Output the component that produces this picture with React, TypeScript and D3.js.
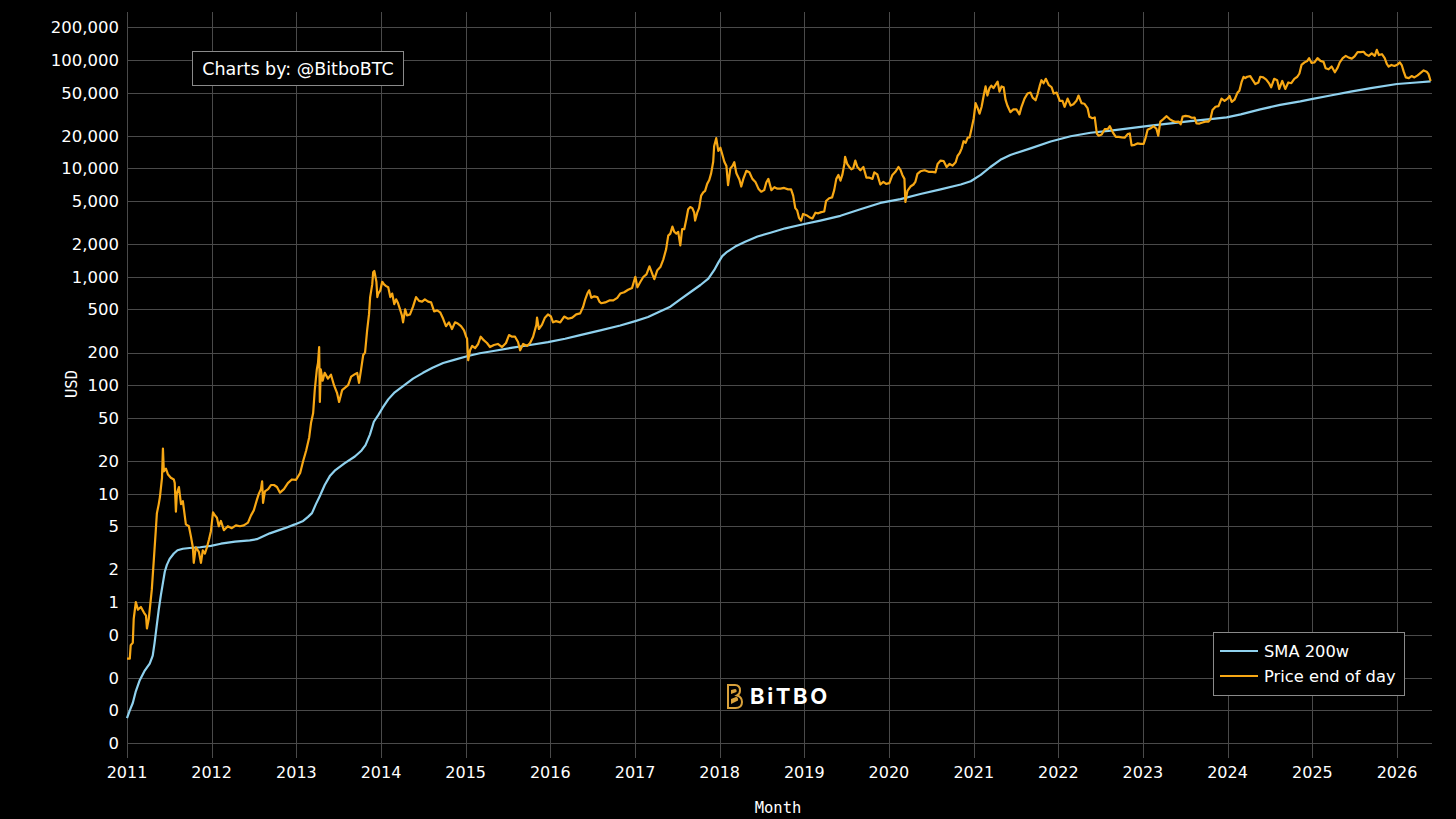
import * as d3 from 'd3';

// price end of day (log scale)
const priceSeries: [string, number][] = [
  ['2011-01-01', 0.3], ['2011-01-13', 0.3], ['2011-01-17', 0.4], ['2011-01-26', 0.42], ['2011-01-30', 0.7],
  ['2011-02-08', 1.0], ['2011-02-17', 0.85], ['2011-03-02', 0.9], ['2011-03-15', 0.8], ['2011-03-24', 0.75],
  ['2011-03-28', 0.57], ['2011-04-05', 0.7], ['2011-04-18', 1.3], ['2011-04-27', 2.5], ['2011-05-05', 4.5],
  ['2011-05-10', 6.6], ['2011-05-18', 8.0], ['2011-05-23', 9.3], ['2011-06-01', 14], ['2011-06-05', 26],
  ['2011-06-09', 16], ['2011-06-18', 17], ['2011-06-27', 15], ['2011-07-09', 14], ['2011-07-22', 13.5],
  ['2011-07-26', 12.5], ['2011-07-31', 6.8], ['2011-08-04', 10], ['2011-08-13', 11.5], ['2011-08-22', 8.0],
  ['2011-08-30', 8.5], ['2011-09-12', 5.2], ['2011-09-25', 5.0], ['2011-10-04', 4.0], ['2011-10-12', 3.2],
  ['2011-10-16', 2.3], ['2011-10-25', 3.2], ['2011-11-07', 2.9], ['2011-11-16', 2.3], ['2011-11-24', 3.0],
  ['2011-12-03', 2.8], ['2011-12-12', 3.2], ['2011-12-21', 3.8], ['2011-12-29', 4.5], ['2012-01-07', 6.7],
  ['2012-01-15', 6.3], ['2012-01-24', 6.0], ['2012-02-01', 5.0], ['2012-02-10', 5.6], ['2012-02-23', 4.6],
  ['2012-03-11', 5.0], ['2012-03-28', 4.8], ['2012-04-15', 5.1], ['2012-05-02', 5.0], ['2012-05-19', 5.1],
  ['2012-06-06', 5.4], ['2012-06-19', 6.3], ['2012-07-01', 7.0], ['2012-07-14', 8.7], ['2012-07-23', 10],
  ['2012-08-01', 11], ['2012-08-06', 13], ['2012-08-10', 8.2], ['2012-08-18', 10.5], ['2012-09-01', 11],
  ['2012-09-13', 12], ['2012-09-26', 12], ['2012-10-09', 11.5], ['2012-10-22', 10.2], ['2012-11-08', 11],
  ['2012-11-25', 12.5], ['2012-12-12', 13.5], ['2012-12-30', 13.4], ['2013-01-17', 15.5], ['2013-01-30', 20],
  ['2013-02-12', 25], ['2013-02-25', 33], ['2013-03-05', 45], ['2013-03-14', 55], ['2013-03-21', 90],
  ['2013-03-30', 140], ['2013-04-04', 160], ['2013-04-09', 225], ['2013-04-12', 70], ['2013-04-16', 140],
  ['2013-04-24', 110], ['2013-05-03', 130], ['2013-05-17', 115], ['2013-05-30', 125], ['2013-06-12', 100],
  ['2013-06-25', 85], ['2013-07-04', 70], ['2013-07-17', 90], ['2013-07-30', 95], ['2013-08-12', 100],
  ['2013-08-25', 120], ['2013-09-07', 125], ['2013-09-20', 130], ['2013-09-28', 105], ['2013-10-07', 140],
  ['2013-10-16', 190], ['2013-10-24', 200], ['2013-11-02', 320], ['2013-11-10', 450], ['2013-11-15', 650],
  ['2013-11-24', 850], ['2013-11-28', 1100], ['2013-12-03', 1130], ['2013-12-12', 900], ['2013-12-16', 650],
  ['2013-12-20', 700], ['2013-12-29', 750], ['2014-01-06', 900], ['2014-01-14', 850], ['2014-01-23', 820],
  ['2014-02-01', 800], ['2014-02-10', 650], ['2014-02-18', 700], ['2014-02-27', 560], ['2014-03-07', 620],
  ['2014-03-14', 580], ['2014-03-24', 500], ['2014-04-01', 440], ['2014-04-06', 380], ['2014-04-15', 500],
  ['2014-04-23', 440], ['2014-05-06', 450], ['2014-05-19', 530], ['2014-06-01', 650], ['2014-06-14', 600],
  ['2014-06-27', 590], ['2014-07-09', 620], ['2014-07-23', 590], ['2014-08-05', 580], ['2014-08-18', 480],
  ['2014-08-31', 490], ['2014-09-13', 470], ['2014-09-26', 410], ['2014-10-08', 350], ['2014-10-21', 380],
  ['2014-11-03', 330], ['2014-11-16', 380], ['2014-11-28', 370], ['2014-12-12', 350], ['2014-12-25', 320],
  ['2015-01-03', 280], ['2015-01-07', 270], ['2015-01-12', 170], ['2015-01-20', 210], ['2015-01-29', 230],
  ['2015-02-11', 220], ['2015-02-24', 240], ['2015-03-07', 280], ['2015-03-20', 260], ['2015-04-03', 245],
  ['2015-04-16', 225], ['2015-05-03', 235], ['2015-05-20', 240], ['2015-06-07', 225], ['2015-06-24', 245],
  ['2015-07-07', 290], ['2015-07-20', 280], ['2015-08-02', 280], ['2015-08-15', 250], ['2015-08-24', 210],
  ['2015-09-06', 240], ['2015-09-23', 230], ['2015-10-06', 245], ['2015-10-19', 280], ['2015-11-02', 360],
  ['2015-11-05', 420], ['2015-11-13', 330], ['2015-11-26', 360], ['2015-12-09', 420], ['2015-12-22', 450],
  ['2016-01-04', 430], ['2016-01-13', 380], ['2016-01-26', 390], ['2016-02-13', 380], ['2016-03-01', 430],
  ['2016-03-18', 410], ['2016-04-05', 420], ['2016-04-22', 450], ['2016-05-09', 460], ['2016-05-22', 530],
  ['2016-05-31', 620], ['2016-06-09', 700], ['2016-06-17', 750], ['2016-06-26', 640], ['2016-07-09', 660],
  ['2016-07-22', 650], ['2016-07-31', 590], ['2016-08-08', 570], ['2016-08-25', 580], ['2016-09-12', 605],
  ['2016-09-29', 605], ['2016-10-16', 640], ['2016-10-29', 700], ['2016-11-15', 720], ['2016-12-02', 760],
  ['2016-12-19', 790], ['2017-01-02', 1000], ['2017-01-11', 800], ['2017-01-24', 900], ['2017-02-06', 1000],
  ['2017-02-19', 1050], ['2017-03-04', 1250], ['2017-03-17', 1050], ['2017-03-25', 950], ['2017-04-07', 1150],
  ['2017-04-20', 1230], ['2017-05-03', 1450], ['2017-05-15', 1800], ['2017-05-24', 2400], ['2017-06-02', 2500],
  ['2017-06-11', 2900], ['2017-06-19', 2600], ['2017-06-28', 2500], ['2017-07-06', 2600], ['2017-07-15', 1950],
  ['2017-07-23', 2750], ['2017-08-01', 2750], ['2017-08-10', 3400], ['2017-08-18', 4200], ['2017-08-27', 4400],
  ['2017-09-05', 4300], ['2017-09-13', 3900], ['2017-09-17', 3300], ['2017-09-26', 3900], ['2017-10-04', 4300],
  ['2017-10-13', 5600], ['2017-10-22', 6000], ['2017-10-30', 6200], ['2017-11-08', 7200], ['2017-11-17', 7800],
  ['2017-11-25', 9000], ['2017-12-04', 11500], ['2017-12-08', 16000], ['2017-12-17', 19000], ['2017-12-26', 14500],
  ['2018-01-04', 15500], ['2018-01-12', 13500], ['2018-01-21', 11500], ['2018-01-30', 10500], ['2018-02-06', 7000],
  ['2018-02-16', 10000], ['2018-02-25', 10500], ['2018-03-05', 11400], ['2018-03-14', 9000], ['2018-03-27', 7900],
  ['2018-04-04', 6800], ['2018-04-13', 8000], ['2018-04-26', 9500], ['2018-05-09', 9200], ['2018-05-22', 8000],
  ['2018-06-04', 7500], ['2018-06-17', 6500], ['2018-06-29', 6100], ['2018-07-12', 6300], ['2018-07-21', 7400],
  ['2018-07-30', 8000], ['2018-08-12', 6300], ['2018-08-25', 6700], ['2018-09-07', 6500], ['2018-09-20', 6500],
  ['2018-10-06', 6600], ['2018-10-23', 6400], ['2018-11-05', 6400], ['2018-11-14', 5600], ['2018-11-23', 4300],
  ['2018-12-01', 4100], ['2018-12-09', 3500], ['2018-12-18', 3300], ['2018-12-27', 3800], ['2019-01-10', 3700],
  ['2019-01-23', 3550], ['2019-02-05', 3450], ['2019-02-18', 3900], ['2019-03-02', 3850], ['2019-03-15', 3950],
  ['2019-03-28', 4000], ['2019-04-05', 5000], ['2019-04-18', 5300], ['2019-05-01', 5400], ['2019-05-10', 6300],
  ['2019-05-19', 8000], ['2019-05-28', 8700], ['2019-06-06', 7700], ['2019-06-14', 8700], ['2019-06-23', 11000],
  ['2019-06-26', 12800], ['2019-07-05', 11000], ['2019-07-14', 10300], ['2019-07-23', 9800], ['2019-07-31', 10000],
  ['2019-08-09', 11800], ['2019-08-18', 10300], ['2019-08-31', 9600], ['2019-09-13', 10300], ['2019-09-26', 8200],
  ['2019-10-09', 8200], ['2019-10-22', 8000], ['2019-10-30', 9200], ['2019-11-12', 8800], ['2019-11-25', 7100],
  ['2019-12-08', 7500], ['2019-12-20', 7200], ['2020-01-03', 7300], ['2020-01-16', 8700], ['2020-01-29', 9300],
  ['2020-02-11', 10300], ['2020-02-20', 9700], ['2020-02-28', 8700], ['2020-03-08', 8000], ['2020-03-12', 4900],
  ['2020-03-21', 6200], ['2020-04-03', 6800], ['2020-04-16', 7100], ['2020-04-24', 7500], ['2020-05-03', 8900],
  ['2020-05-16', 9400], ['2020-06-03', 9600], ['2020-06-20', 9300], ['2020-07-07', 9300], ['2020-07-20', 9200],
  ['2020-07-29', 11000], ['2020-08-11', 11800], ['2020-08-24', 11700], ['2020-09-06', 10300], ['2020-09-19', 11000],
  ['2020-10-01', 10600], ['2020-10-15', 11400], ['2020-10-23', 13000], ['2020-11-01', 13800], ['2020-11-10', 15300],
  ['2020-11-18', 17800], ['2020-11-27', 17200], ['2020-12-06', 19200], ['2020-12-14', 19300], ['2020-12-23', 23500],
  ['2021-01-01', 29000], ['2021-01-09', 40000], ['2021-01-18', 36000], ['2021-01-26', 32000], ['2021-02-04', 37000],
  ['2021-02-13', 47000], ['2021-02-21', 57000], ['2021-03-01', 47000], ['2021-03-10', 55000], ['2021-03-18', 58000],
  ['2021-03-27', 55000], ['2021-04-05', 59000], ['2021-04-14', 63000], ['2021-04-22', 51000], ['2021-05-01', 57000],
  ['2021-05-10', 56000], ['2021-05-18', 43000], ['2021-05-26', 38000], ['2021-06-08', 33000], ['2021-06-21', 35000],
  ['2021-07-04', 35000], ['2021-07-17', 31500], ['2021-07-26', 37000], ['2021-08-08', 44000], ['2021-08-21', 49000],
  ['2021-09-03', 50000], ['2021-09-12', 45000], ['2021-09-25', 42500], ['2021-10-03', 48000], ['2021-10-12', 57000],
  ['2021-10-20', 65000], ['2021-10-29', 61000], ['2021-11-08', 67000], ['2021-11-20', 59000], ['2021-12-03', 56000],
  ['2021-12-12', 49000], ['2021-12-25', 50000], ['2022-01-07', 42000], ['2022-01-19', 42000], ['2022-01-28', 37000],
  ['2022-02-10', 44000], ['2022-02-23', 38000], ['2022-03-07', 39000], ['2022-03-20', 42000], ['2022-03-29', 47000],
  ['2022-04-11', 40000], ['2022-04-23', 39500], ['2022-05-07', 36000], ['2022-05-15', 30000], ['2022-05-28', 29000],
  ['2022-06-07', 29500], ['2022-06-16', 21000], ['2022-06-24', 20000], ['2022-07-07', 20500], ['2022-07-20', 23000],
  ['2022-08-02', 23000], ['2022-08-11', 24500], ['2022-08-24', 21500], ['2022-09-06', 19500], ['2022-09-19', 19500],
  ['2022-10-01', 19300], ['2022-10-14', 19200], ['2022-10-27', 20700], ['2022-11-05', 21000], ['2022-11-13', 16300],
  ['2022-11-26', 16500], ['2022-12-08', 17000], ['2022-12-21', 16800], ['2023-01-04', 16800], ['2023-01-12', 19000],
  ['2023-01-21', 22700], ['2023-02-03', 23400], ['2023-02-16', 24500], ['2023-02-28', 23200], ['2023-03-08', 20000],
  ['2023-03-17', 27000], ['2023-03-30', 28500], ['2023-04-13', 30300], ['2023-04-26', 28500], ['2023-05-08', 27500],
  ['2023-05-22', 26800], ['2023-06-04', 27000], ['2023-06-13', 25500], ['2023-06-21', 30000], ['2023-07-04', 30500],
  ['2023-07-17', 30200], ['2023-07-30', 29300], ['2023-08-12', 29400], ['2023-08-20', 26000], ['2023-09-02', 25900],
  ['2023-09-15', 26500], ['2023-09-28', 27000], ['2023-10-11', 27000], ['2023-10-19', 28500], ['2023-10-28', 34500],
  ['2023-11-10', 37000], ['2023-11-23', 37500], ['2023-12-06', 44000], ['2023-12-19', 42000], ['2024-01-01', 44000],
  ['2024-01-10', 46500], ['2024-01-19', 41000], ['2024-01-31', 43000], ['2024-02-13', 50000], ['2024-02-21', 52000],
  ['2024-03-01', 62000], ['2024-03-10', 70000], ['2024-03-17', 68000], ['2024-03-26', 70000], ['2024-04-08', 71000],
  ['2024-04-21', 64000], ['2024-04-30', 60000], ['2024-05-13', 62000], ['2024-05-21', 70000], ['2024-06-03', 69000],
  ['2024-06-16', 66000], ['2024-06-29', 60500], ['2024-07-07', 56000], ['2024-07-20', 67000], ['2024-08-02', 65000],
  ['2024-08-11', 54000], ['2024-08-24', 64000], ['2024-09-06', 54000], ['2024-09-19', 62000], ['2024-10-02', 61000],
  ['2024-10-15', 67000], ['2024-10-28', 70000], ['2024-11-06', 75000], ['2024-11-15', 90000], ['2024-11-28', 95000],
  ['2024-12-10', 98000], ['2024-12-18', 104000], ['2024-12-28', 94000], ['2025-01-10', 95000], ['2025-01-23', 104000],
  ['2025-02-05', 98000], ['2025-02-18', 96000], ['2025-02-27', 84000], ['2025-03-12', 82000], ['2025-03-25', 87000],
  ['2025-04-08', 77000], ['2025-04-20', 85000], ['2025-04-29', 95000], ['2025-05-12', 104000], ['2025-05-25', 109000],
  ['2025-06-07', 105000], ['2025-06-20', 103000], ['2025-07-02', 108000], ['2025-07-15', 118000], ['2025-07-28', 118000],
  ['2025-08-10', 119000], ['2025-08-19', 113000], ['2025-09-01', 109000], ['2025-09-14', 115000], ['2025-09-27', 109000],
  ['2025-10-06', 124000], ['2025-10-15', 111000], ['2025-10-28', 113000], ['2025-11-09', 104000], ['2025-11-18', 92000],
  ['2025-11-26', 87000], ['2025-12-08', 90000], ['2025-12-21', 88000], ['2026-01-04', 91000], ['2026-01-13', 95000],
  ['2026-01-22', 89000], ['2026-01-30', 78000], ['2026-02-08', 69000], ['2026-02-21', 68000], ['2026-03-05', 71000],
  ['2026-03-17', 69000], ['2026-03-31', 72000], ['2026-04-13', 76000], ['2026-04-26', 80000], ['2026-05-09', 78000],
  ['2026-05-17', 74000], ['2026-05-26', 64000],
];

// 200-week simple moving average
const smaSeries: [string, number][] = [
  ['2011-01-01', 0.085], ['2011-01-13', 0.1], ['2011-01-26', 0.117], ['2011-02-08', 0.15], ['2011-02-25', 0.19],
  ['2011-03-17', 0.23], ['2011-04-09', 0.27], ['2011-04-22', 0.32], ['2011-04-30', 0.42], ['2011-05-09', 0.6],
  ['2011-05-18', 0.85], ['2011-05-27', 1.15], ['2011-06-05', 1.5], ['2011-06-13', 1.9], ['2011-06-22', 2.2],
  ['2011-07-04', 2.5], ['2011-07-22', 2.8], ['2011-08-07', 3.0], ['2011-08-30', 3.1], ['2011-09-28', 3.15],
  ['2011-11-13', 3.2], ['2011-12-29', 3.3], ['2012-02-10', 3.45], ['2012-04-11', 3.6], ['2012-06-14', 3.7],
  ['2012-07-14', 3.8], ['2012-09-08', 4.3], ['2012-11-12', 4.8], ['2012-12-25', 5.2], ['2013-01-30', 5.6],
  ['2013-02-20', 6.1], ['2013-03-09', 6.6], ['2013-03-26', 8.0], ['2013-04-12', 9.5], ['2013-05-03', 12],
  ['2013-05-25', 14.5], ['2013-06-18', 16.5], ['2013-07-27', 19], ['2013-09-10', 22], ['2013-10-09', 25],
  ['2013-10-26', 28], ['2013-11-14', 35], ['2013-12-01', 46], ['2013-12-20', 53], ['2014-01-08', 62],
  ['2014-02-01', 74], ['2014-03-01', 86], ['2014-04-06', 98], ['2014-05-19', 115], ['2014-07-01', 130],
  ['2014-08-11', 145], ['2014-09-26', 160], ['2014-11-16', 172], ['2015-01-07', 185], ['2015-03-03', 197],
  ['2015-05-07', 208], ['2015-07-23', 222], ['2015-10-06', 235], ['2015-12-22', 250], ['2016-03-05', 268],
  ['2016-05-09', 290], ['2016-08-04', 320], ['2016-10-29', 355], ['2017-01-02', 390], ['2017-02-26', 425],
  ['2017-04-11', 470], ['2017-06-02', 530], ['2017-07-15', 620], ['2017-08-27', 720], ['2017-10-10', 840],
  ['2017-11-13', 960], ['2017-12-08', 1150], ['2017-12-26', 1350], ['2018-01-12', 1550], ['2018-02-02', 1700],
  ['2018-03-09', 1900], ['2018-04-21', 2100], ['2018-06-13', 2350], ['2018-08-08', 2550], ['2018-10-11', 2800],
  ['2018-12-27', 3050], ['2019-03-11', 3300], ['2019-06-06', 3650], ['2019-08-31', 4200], ['2019-11-25', 4800],
  ['2020-02-20', 5200], ['2020-05-16', 5800], ['2020-08-11', 6400], ['2020-11-06', 7100], ['2020-12-19', 7600],
  ['2021-01-31', 8700], ['2021-03-14', 10300], ['2021-04-26', 12000], ['2021-06-08', 13300], ['2021-09-03', 15300],
  ['2021-11-29', 17700], ['2022-02-23', 19800], ['2022-05-20', 21300], ['2022-08-15', 22300], ['2022-11-09', 23500],
  ['2023-02-03', 24800], ['2023-05-01', 26000], ['2023-07-25', 27300], ['2023-10-19', 28500], ['2023-12-28', 29500],
  ['2024-02-27', 31500], ['2024-05-21', 35000], ['2024-08-15', 38500], ['2024-11-10', 41500], ['2024-12-28', 43500],
  ['2025-03-20', 47000], ['2025-06-15', 51000], ['2025-09-10', 55000], ['2026-01-01', 60000], ['2026-03-26', 62000],
  ['2026-05-26', 63500],
];

const yTickValues = [200000, 100000, 50000, 20000, 10000, 5000, 2000, 1000, 500, 200, 100, 50, 20, 10, 5, 2, 1, 0.5, 0.2, 0.1, 0.05];
const yTickLabels = ['200,000', '100,000', '50,000', '20,000', '10,000', '5,000', '2,000', '1,000', '500', '200', '100', '50', '20', '10', '5', '2', '1', '0', '0', '0', '0'];
const xTickYears = [2011, 2012, 2013, 2014, 2015, 2016, 2017, 2018, 2019, 2020, 2021, 2022, 2023, 2024, 2025, 2026];
const seriesNames = ['SMA 200w', 'Price end of day'];

const W = 1456;
const H = 819;
const margin = { left: 127, right: 24, top: 12, bottom: 61 };
const FONT = 'Verdana, "DejaVu Sans", sans-serif';
const MONO = '"DejaVu Sans Mono", monospace';
const GRID = '#4a4a4a';
const PRICE = '#f7a714';
const SMA = '#8fd1ee';

const parse = d3.timeParse('%Y-%m-%d');

const App = () => {
  const x = d3.scaleTime()
    .domain([parse('2011-01-01') as Date, parse('2026-06-01') as Date])
    .range([margin.left, W - margin.right]);

  const y = d3.scaleLog()
    .domain([0.0364, 277000])
    .range([H - margin.bottom, margin.top]);

  const line = d3.line<[string, number]>()
    .x(d => x(parse(d[0]) as Date))
    .y(d => y(d[1]));

  const x0 = margin.left;
  const x1 = W - margin.right;
  const y0 = margin.top;
  const y1 = H - margin.bottom;

  return (
    <svg width={W} height={H} style={{ position: 'fixed', left: 0, top: 0, background: '#000' }}>
      <rect x={0} y={0} width={W} height={H} fill="#000" />

      {/* grid */}
      <g>
        {xTickYears.map(yr => {
          const xx = Math.round(x(new Date(yr, 0, 1))) + 0.5;
          return <line key={yr} x1={xx} x2={xx} y1={y0} y2={y1} stroke={GRID} strokeWidth={1} />;
        })}
        {yTickValues.map(v => {
          const yy = Math.round(y(v)) + 0.5;
          return <line key={v} x1={x0} x2={x1} y1={yy} y2={yy} stroke={GRID} strokeWidth={1} />;
        })}
      </g>

      {/* y tick labels */}
      <g fontFamily={FONT} fontSize={16.5} fill="#fff" textAnchor="end">
        {yTickValues.map((v, i) => (
          <text key={v} x={119} y={y(v)} dy="0.36em">{yTickLabels[i]}</text>
        ))}
      </g>

      {/* x tick labels */}
      <g fontFamily={FONT} fontSize={16} fill="#fff" textAnchor="middle">
        {xTickYears.map(yr => (
          <text key={yr} x={x(new Date(yr, 0, 1))} y={778}>{yr}</text>
        ))}
      </g>

      {/* axis titles */}
      <text x={778} y={813} textAnchor="middle" fontFamily={MONO} fontSize={15.5} fill="#fff">Month</text>
      <text transform="translate(77,384) rotate(-90)" textAnchor="middle" fontFamily={MONO} fontSize={15.5} fill="#fff">USD</text>

      {/* series */}
      <path d={line(smaSeries) ?? ''} fill="none" stroke={SMA} strokeWidth={2.2} strokeLinejoin="round" />
      <path d={line(priceSeries) ?? ''} fill="none" stroke={PRICE} strokeWidth={2.2} strokeLinejoin="round" />

      {/* annotation */}
      <rect x={192.5} y={51.5} width={211} height={34} fill="#000" stroke="#8a8a8a" strokeWidth={1} />
      <text x={298} y={75} textAnchor="middle" fontFamily={FONT} fontSize={17.5} fill="#fff">Charts by: @BitboBTC</text>

      {/* legend */}
      <g>
        <rect x={1213.5} y={632.5} width={191} height={63} fill="#000" stroke="#8a8a8a" strokeWidth={1} />
        {seriesNames.map((name, i) => (
          <g key={name} transform={`translate(0, ${651 + i * 25})`}>
            <line x1={1220} x2={1258} y1={0} y2={0} stroke={i === 0 ? SMA : PRICE} strokeWidth={2} />
            <text x={1264} y={0} dy="0.36em" fontFamily={FONT} fontSize={16.3} fill="#fff">{name}</text>
          </g>
        ))}
      </g>

      {/* watermark */}
      <g transform="translate(726,684)">
        <path d="M2,1 L9,1 Q14,1 14,6.5 Q14,10 11,11.5 Q16,13 16,18 Q16,24 9.5,24 L2,24 Z" fill="none" stroke="#d9a13b" strokeWidth={2} />
        <path d="M5,6 L9,5 Q11,5 10.5,8 L5,10 Z M5,15 L10,13 Q12.5,13 12,16.5 L5,20 Z" fill="#d9a13b" />
      </g>
      <text x={750} y={704} fontFamily="Inter, 'DejaVu Sans', sans-serif" fontWeight={700} fontSize={22} letterSpacing={2.6} fill="#fff">BiTBO</text>
    </svg>
  );
};

export default App;
